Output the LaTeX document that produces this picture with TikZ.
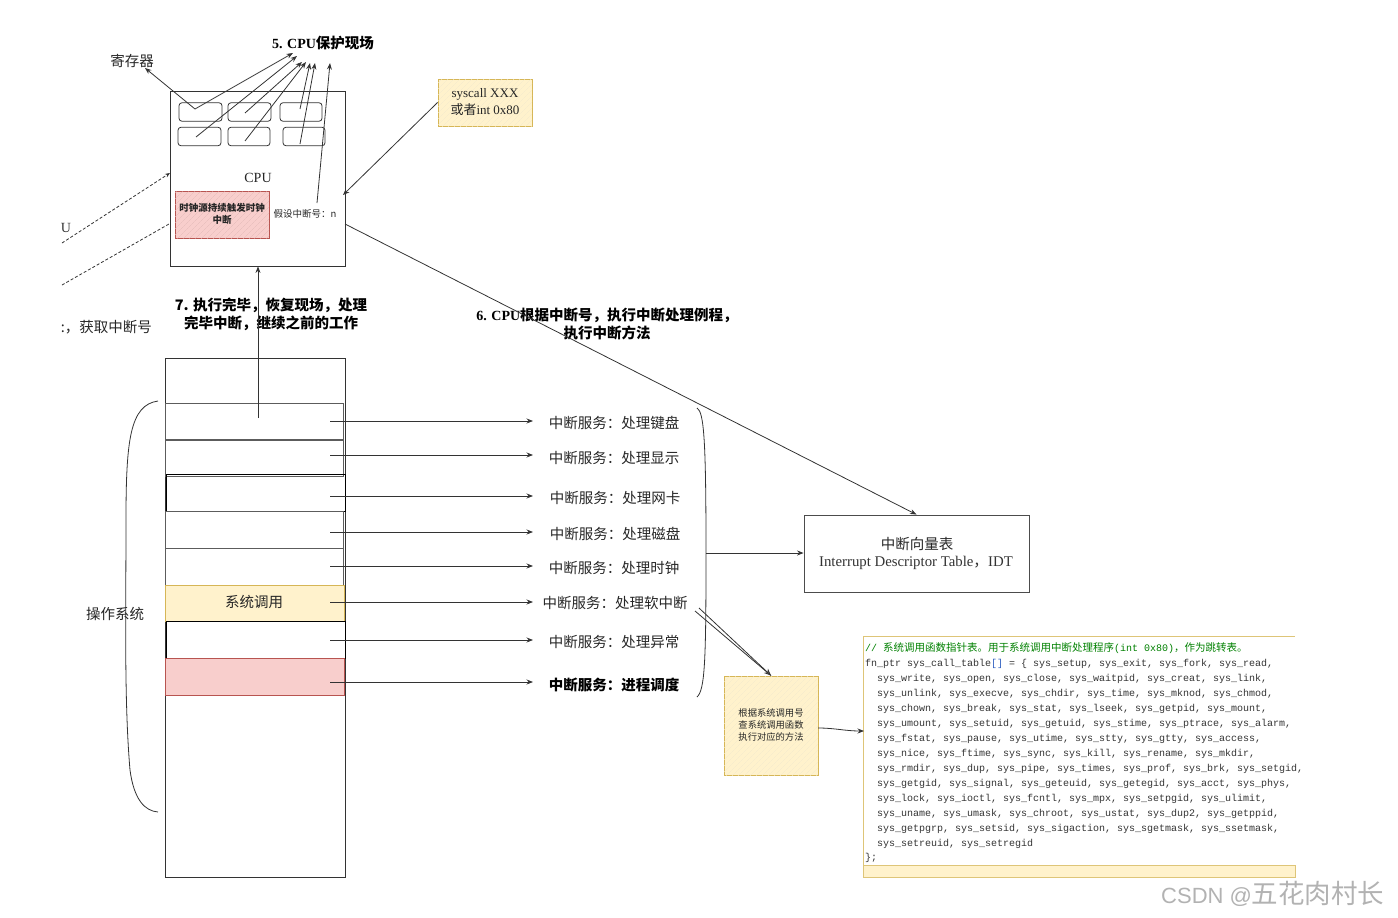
\documentclass[tikz,border=0pt]{standalone}
\usepackage{fontspec}
\setmainfont{Liberation Serif}
\setsansfont{Liberation Sans}
\setmonofont{Liberation Mono}
\newfontfamily\cjk{Noto Sans CJK SC}
\usetikzlibrary{arrows.meta,patterns.meta}
\definecolor{ylfill}{HTML}{FFF2CC}
\definecolor{ylline}{HTML}{D6B656}
\definecolor{rdfill}{HTML}{F8CECC}
\definecolor{rdline}{HTML}{B85450}
\definecolor{lnc}{HTML}{333333}
\definecolor{cmt}{HTML}{008000}
\definecolor{brk}{HTML}{3060C0}
\newcommand\fsz[2]{\fontsize{#1}{#2}\selectfont}
\tikzset{
  lbl/.style={inner sep=0pt, font=\cjk\fsz{14.5}{18}, text=black!85},
  boldlbl/.style={inner sep=0pt, font=\cjk\bfseries\fsz{14.5}{18}, text=black, align=center},
  smalllbl/.style={inner sep=0pt, font=\cjk\fsz{9.5}{12}, text=black!85, align=center},
  box/.style={draw=lnc, line width=0.8pt, inner sep=0pt},
  regbox/.style={draw=lnc, line width=0.8pt, rounded corners=3pt, inner sep=0pt, minimum height=18.5pt},
  row/.style={draw=lnc!80, line width=0.8pt, inner sep=0pt, minimum width=178pt, minimum height=37pt},
  darkrow/.style={draw=black, line width=1pt, inner sep=0pt, minimum width=179pt, minimum height=37pt},
  arr/.style={draw=lnc, line width=0.8pt, -{Stealth[length=6.5pt,width=5pt]}},
  ln/.style={draw=lnc, line width=0.8pt},
  sketchy/.style={fill=ylfill, draw=ylline, line width=0.9pt,
     postaction={pattern={Lines[angle=45,distance=4pt,line width=0.4pt]}, pattern color=ylline!30}},
  sketchr/.style={fill=rdfill, draw=rdline, line width=0.9pt,
     postaction={pattern={Lines[angle=45,distance=4pt,line width=0.4pt]}, pattern color=rdline!40}},
  codeln/.style={anchor=base west, inner sep=0pt, font=\ttfamily\fsz{10}{12}, text=black!80},
}
\begin{document}
\begin{tikzpicture}[x=1pt,y=-1pt]
\useasboundingbox (0,0) rectangle (1398,918);

% ---------- CPU ----------
\node[box, minimum width=175pt, minimum height=175pt] (cpu) at (257.5,178.5) {};
\node[inner sep=0pt, font=\fsz{14}{17}, text=black!85] (cpulbl) at (258,178) {CPU};
\node[regbox, minimum width=43pt] (r11) at (200.5,112) {};
\node[regbox, minimum width=43pt] (r12) at (249.5,112) {};
\node[regbox, minimum width=42pt] (r13) at (301,112) {};
\node[regbox, minimum width=43pt] (r21) at (199.5,136.5) {};
\node[regbox, minimum width=42pt] (r22) at (249,136.5) {};
\node[regbox, minimum width=42pt] (r23) at (304,136.5) {};
\node[sketchr, minimum width=94pt, minimum height=47pt, inner sep=0pt] (clk) at (222,214.5) {};
\node[smalllbl, font=\cjk\bfseries\fsz{9.5}{12}] (clkt) at (222,214) {时钟源持续触发时钟\\中断};
\node[smalllbl] (irqn) at (305,214) {假设中断号：n};

\node[lbl] (reg) at (132,61) {寄存器};
\node[inner sep=0pt, font=\bfseries\fsz{14}{17}] (t5) at (323,43) {5. CPU{\cjk\fsz{14.5}{17}保护现场}};

\coordinate (s11) at (195,109); \coordinate (s21) at (196,137);
\coordinate (s12) at (245,113); \coordinate (s22) at (245,141);
\coordinate (s13) at (300,109); \coordinate (s23) at (300,144);
\coordinate (sn) at (317,203);
\coordinate (h1) at (293,53); \coordinate (h2) at (297,56);
\coordinate (h3) at (302,62); \coordinate (h4) at (306,62);
\coordinate (h5) at (310,63); \coordinate (h6) at (315,63);
\coordinate (h7) at (330,63); \coordinate (hreg) at (145,68);
\draw[arr] (s11) -- (h1);
\draw[arr] (s21) -- (h2);
\draw[arr] (s12) -- (h3);
\draw[arr] (s22) -- (h4);
\draw[arr] (s13) -- (h5);
\draw[arr] (s23) -- (h6);
\draw[arr] (sn) -- (h7);
\draw[arr] (s11) -- (hreg);

% left dashed lines
\coordinate (d1a) at (62,243); \coordinate (d1b) at (170,173);
\coordinate (d2a) at (62,285); \coordinate (d2b) at (169,224);
\draw[ln, dash pattern=on 3pt off 2pt, -{Stealth[length=5pt,width=4pt]}] (d1a) -- (d1b);
\draw[ln, dash pattern=on 3pt off 2pt] (d2a) -- (d2b);
\node[inner sep=0pt, font=\fsz{14}{17}, text=black!80] (u) at (66,228) {U};
\node[lbl, anchor=east] (getn) at (152,327) {:，获取中断号};

% ---------- syscall box ----------
\node[sketchy, minimum width=94pt, minimum height=47pt, inner sep=0pt] (sc) at (485,102.5) {};
\node[inner sep=0pt, align=center, font=\fsz{13}{17}, text=black!85] (sct) at (485,102) {syscall XXX\\{\cjk 或者}int 0x80};
\coordinate (scin) at (343,195);
\draw[arr] (sc.west) -- (scin);

% ---------- step texts ----------
\node[boldlbl] (t7) at (271,314) {7. 执行完毕，恢复现场，处理\\完毕中断，继续之前的工作};
\node[boldlbl] (t6) at (607,324) {{\rmfamily\bfseries\fsz{14}{18}6. CPU}根据中断号，执行中断处理例程，\\执行中断方法};

% ---------- OS stack ----------
\node[box, minimum width=180pt, minimum height=519pt] (os) at (255,617.5) {};
\node[row] (row1) at (254,421.5) {};
\node[row] (row2) at (254,457.5) {};
\node[darkrow] (row3) at (255.5,493) {};
\node[row] (row4) at (254,529.5) {};
\node[row] (row5) at (254,566.5) {};
\node[draw=ylline, fill=ylfill, line width=0.8pt, inner sep=0pt, minimum width=179pt, minimum height=36pt] (row6) at (254.5,603) {};
\node[lbl] (sys) at (254,602) {系统调用};
\node[darkrow] (row7) at (255.5,639.5) {};
\node[draw=rdline, fill=rdfill, line width=0.8pt, inner sep=0pt, minimum width=179pt, minimum height=37pt] (row8) at (254.5,676.5) {};

\coordinate (upfrom) at (258,418);
\draw[arr] (upfrom) -- (cpu.south -| upfrom);

% service labels
\node[lbl] (sv1) at (614,423) {中断服务：处理键盘};
\node[lbl] (sv2) at (614,458) {中断服务：处理显示};
\node[lbl] (sv3) at (615,498) {中断服务：处理网卡};
\node[lbl] (sv4) at (615,534) {中断服务：处理磁盘};
\node[lbl] (sv5) at (614,568) {中断服务：处理时钟};
\node[lbl] (sv6) at (615,603) {中断服务：处理软中断};
\node[lbl] (sv7) at (614,642) {中断服务：处理异常};
\node[lbl, font=\cjk\bfseries\fsz{14.5}{18}, text=black] (sv8) at (614,685) {中断服务：进程调度};
\foreach \i/\y in {1/421,2/455,3/496,4/532,5/566,6/602,7/640,8/682}{
  \coordinate (a\i) at (330,\y);
  \coordinate (b\i) at (533,\y);
  \draw[arr] (a\i) -- (b\i);
}

% braces
\coordinate (lb1) at (158,401); \coordinate (lb3) at (158,812);
\draw[ln] (lb1) .. controls (130,405) and (126,440) .. (126,520) .. controls (126,610) and (124,700) .. (130,770) .. controls (134,800) and (145,811) .. (lb3);
\node[lbl] (ostxt) at (115,614) {操作系统};
\coordinate (rb1) at (697,408); \coordinate (rb2) at (706,553); \coordinate (rb3) at (697,697);
\draw[ln] (rb1) .. controls (704,412) and (706,440) .. (rb2) .. controls (706,660) and (705,690) .. (rb3);

% ---------- IDT ----------
\node[draw=black!70, line width=0.9pt, minimum width=225pt, minimum height=77pt, inner sep=0pt] (idt) at (916.5,553.5) {};
\node[lbl] (idt1) at (917,544) {中断向量表};
\node[inner sep=0pt, font=\fsz{14.8}{17}, text=black!80] (idt2) at (916,563) {Interrupt Descriptor Table{\cjk ，}IDT};
\draw[arr] (rb2) -- (idt.west |- rb2);
\coordinate (cpuout) at (345,224);
\draw[arr] (cpuout) -- (idt.north);

% ---------- syscall lookup box ----------
\node[sketchy, minimum width=94pt, minimum height=99pt, inner sep=0pt] (look) at (771,725.5) {};
\node[smalllbl, font=\cjk\fsz{9.3}{12}] (lookt) at (771,725) {根据系统调用号\\查系统调用函数\\执行对应的方法};
\coordinate (sfa) at (695,611); \coordinate (sfb) at (699,608);
\draw[ln] (sfa) -- (look.north);
\draw[ln, -{Stealth[length=7pt,width=6pt,open]}] (sfb) -- (look.north);

% ---------- code box ----------
\fill[ylfill] (863,865) rectangle (1295,877);
\draw[draw=ylline!80, line width=0.9pt] (1295,636) -- (863,636) -- (863,877) -- (1295,877) -- (1295,865) -- (863,865);
\coordinate (codein) at (864,731);
\coordinate (lookout) at (818,728);
\draw[arr] (lookout) .. controls (835,728) and (845,731) .. (codein);

\node[codeln, text=cmt] (c1) at (865,651.5) {// {\cjk\fsz{10.5}{12}系统调用函数指针表。用于系统调用中断处理程序}(int 0x80){\cjk\fsz{10.5}{12}，作为跳转表。}};
\node[codeln] (c2) at (865,666.5) {fn\_ptr sys\_call\_table{\color{brk}[]} = \{ sys\_setup, sys\_exit, sys\_fork, sys\_read,};
\node[codeln] (c3) at (877,681.5) {sys\_write, sys\_open, sys\_close, sys\_waitpid, sys\_creat, sys\_link,};
\node[codeln] (c4) at (877,696.5) {sys\_unlink, sys\_execve, sys\_chdir, sys\_time, sys\_mknod, sys\_chmod,};
\node[codeln] (c5) at (877,711.5) {sys\_chown, sys\_break, sys\_stat, sys\_lseek, sys\_getpid, sys\_mount,};
\node[codeln] (c6) at (877,726.5) {sys\_umount, sys\_setuid, sys\_getuid, sys\_stime, sys\_ptrace, sys\_alarm,};
\node[codeln] (c7) at (877,741.5) {sys\_fstat, sys\_pause, sys\_utime, sys\_stty, sys\_gtty, sys\_access,};
\node[codeln] (c8) at (877,756.5) {sys\_nice, sys\_ftime, sys\_sync, sys\_kill, sys\_rename, sys\_mkdir,};
\node[codeln] (c9) at (877,771.5) {sys\_rmdir, sys\_dup, sys\_pipe, sys\_times, sys\_prof, sys\_brk, sys\_setgid,};
\node[codeln] (c10) at (877,786.5) {sys\_getgid, sys\_signal, sys\_geteuid, sys\_getegid, sys\_acct, sys\_phys,};
\node[codeln] (c11) at (877,801.5) {sys\_lock, sys\_ioctl, sys\_fcntl, sys\_mpx, sys\_setpgid, sys\_ulimit,};
\node[codeln] (c12) at (877,816.5) {sys\_uname, sys\_umask, sys\_chroot, sys\_ustat, sys\_dup2, sys\_getppid,};
\node[codeln] (c13) at (877,831.5) {sys\_getpgrp, sys\_setsid, sys\_sigaction, sys\_sgetmask, sys\_ssetmask,};
\node[codeln] (c14) at (877,846.5) {sys\_setreuid, sys\_setregid};
\node[codeln] (c15) at (865,860.5) {\};};

% watermark
\node[inner sep=0pt, anchor=west, text=black!30, font=\sffamily\fsz{22}{26}] (wm) at (1161,894) {CSDN @{\cjk\fsz{26.5}{27}五花肉村长}};
\end{tikzpicture}
\end{document}
